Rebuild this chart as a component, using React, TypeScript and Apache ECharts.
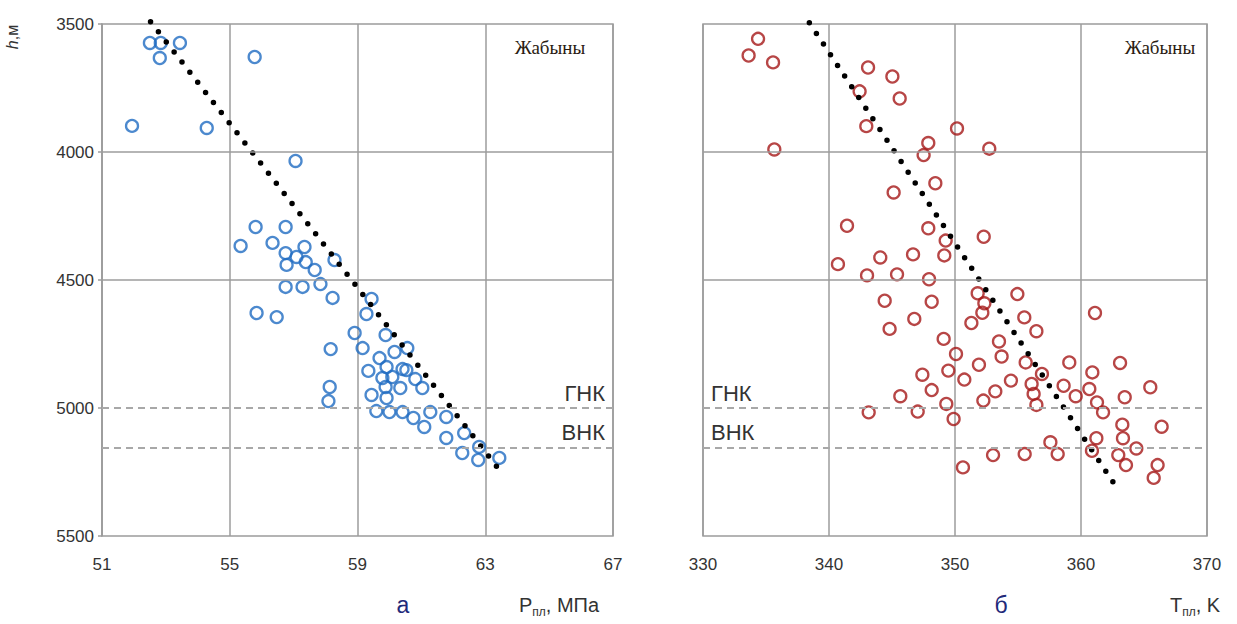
import React, { useEffect, useRef } from "react";
import * as echarts from "echarts";

// Left panel: reservoir pressure (MPa) vs depth (m)
const pressurePoints: [number, number][] = [
  [52.5, 3574], [52.84, 3574], [53.44, 3574], [52.81, 3633], [55.78, 3629],
  [51.94, 3898], [54.28, 3906], [57.06, 4035],
  [55.81, 4293], [56.75, 4293], [55.34, 4367], [56.34, 4355], [57.34, 4371],
  [56.75, 4395], [57.09, 4410], [58.28, 4422], [56.78, 4441], [57.38, 4430],
  [57.66, 4461], [56.75, 4527], [57.28, 4527], [57.84, 4516], [58.22, 4570],
  [59.44, 4574], [55.84, 4629], [56.47, 4645], [59.28, 4633],
  [58.91, 4707], [59.88, 4715], [58.16, 4770], [59.16, 4766], [60.56, 4766],
  [60.16, 4781], [59.69, 4805], [59.34, 4855], [59.91, 4840], [60.41, 4848],
  [60.53, 4852], [59.78, 4883], [60.09, 4879], [60.81, 4887],
  [61.03, 4922], [60.34, 4922], [59.88, 4918], [58.13, 4918], [59.44, 4949],
  [59.91, 4961], [58.09, 4973], [59.59, 5012], [60.0, 5016], [60.41, 5016],
  [60.75, 5039], [61.28, 5016], [61.78, 5035], [61.09, 5074],
  [61.78, 5117], [62.34, 5098], [62.28, 5176], [62.81, 5152], [62.78, 5203],
  [63.44, 5195],
];
const pressureTrend: [number, number][] = [[52.52, 3491], [63.38, 5232]];

// Right panel: reservoir temperature (K) vs depth (m)
const temperaturePoints: [number, number][] = [
  [334.37, 3558], [333.62, 3623], [335.56, 3650], [343.1, 3670], [345.03, 3705],
  [342.43, 3763], [345.61, 3791], [342.96, 3899], [350.16, 3908], [335.66, 3990],
  [347.88, 3965], [347.51, 4012], [352.72, 3987], [348.44, 4122], [345.13, 4158],
  [341.43, 4288], [347.88, 4298], [349.26, 4346], [352.28, 4331], [349.15, 4404],
  [346.67, 4400], [344.07, 4412], [340.71, 4438], [343.02, 4482], [345.4, 4478],
  [347.94, 4497],
  [344.42, 4581], [348.15, 4585], [351.8, 4552], [352.33, 4591], [354.95, 4555],
  [352.17, 4628], [346.77, 4652], [344.81, 4691], [351.3, 4668], [355.5, 4646],
  [356.46, 4700], [361.11, 4629], [349.1, 4730], [353.49, 4740], [350.08, 4789],
  [353.7, 4799], [351.9, 4831], [355.61, 4822], [356.9, 4867], [359.07, 4822],
  [363.1, 4824], [360.9, 4861], [347.41, 4870], [349.47, 4854], [350.74, 4889],
  [354.44, 4893], [356.08, 4906], [358.62, 4913], [360.66, 4926], [365.5, 4919],
  [348.15, 4930], [353.2, 4935], [356.24, 4945], [359.58, 4954], [363.47, 4958],
  [345.66, 4954], [352.25, 4971], [356.46, 4988], [361.27, 4978], [349.31, 4984],
  [361.75, 5017], [343.15, 5017], [347.04, 5014], [349.89, 5043], [363.28, 5065],
  [366.4, 5073], [361.22, 5118], [363.33, 5118], [357.57, 5134], [364.39, 5158],
  [360.87, 5167], [358.15, 5180], [355.53, 5180], [353.02, 5184], [362.96, 5184],
  [363.57, 5223], [366.08, 5223], [350.63, 5232], [365.77, 5273],
];
const temperatureTrend: [number, number][] = [[338.44, 3495], [362.83, 5311]];

const depthGridValues = [4000, 4500];
const contactDepths = [5000, 5155];
const contactNames = ["ГНК", "ВНК"];
const panelTitle = "Жабыны";

const GRID_GREY = "#9c9c9c";
const DASH_GREY = "#a8a8a8";
const SANS = "'Liberation Sans', Arial, sans-serif";

function gridMarkLine(start: boolean) {
  return {
    silent: true,
    symbol: "none",
    animation: false,
    data: [
      ...depthGridValues.map((v) => ({
        yAxis: v,
        lineStyle: { type: "solid", color: GRID_GREY, width: 1.5 },
        label: { show: false },
      })),
      ...contactDepths.map((v, i) => ({
        yAxis: v,
        lineStyle: { type: [7, 5], color: DASH_GREY, width: 2 },
        label: {
          show: true,
          formatter: contactNames[i],
          position: start ? "insideStartTop" : "insideEndTop",
          fontSize: 22,
          fontFamily: SANS,
          color: "#333",
          distance: [8, 4],
        },
      })),
    ],
  };
}

export default function App() {
  const ref = useRef<HTMLDivElement>(null);
  useEffect(() => {
    if (!ref.current) return;
    const chart = echarts.init(ref.current, null, { renderer: "svg" });
    const xLabel = { margin: 20, fontSize: 17, color: "#333", fontFamily: SANS };
    const dotted = { color: "#000", width: 5.5, type: [0, 12.8], cap: "round" };
    const option: any = {
      animation: false,
      grid: [
        { left: 102, top: 24, width: 511, height: 512, show: true, borderColor: GRID_GREY, borderWidth: 1.5 },
        { left: 703, top: 24, width: 504, height: 512, show: true, borderColor: GRID_GREY, borderWidth: 1.5 },
      ],
      xAxis: [
        {
          gridIndex: 0, type: "value", min: 51, max: 67, interval: 4,
          axisLine: { show: false }, axisTick: { show: false },
          splitLine: { show: true, lineStyle: { color: GRID_GREY, width: 1.5 } },
          axisLabel: xLabel,
        },
        {
          gridIndex: 1, type: "value", min: 330, max: 370, interval: 10,
          axisLine: { show: false }, axisTick: { show: false },
          splitLine: { show: true, lineStyle: { color: GRID_GREY, width: 1.5 } },
          axisLabel: xLabel,
        },
      ],
      yAxis: [
        {
          gridIndex: 0, type: "value", inverse: true, min: 3500, max: 5500, interval: 500,
          splitLine: { show: false },
          axisLine: { show: true, lineStyle: { color: GRID_GREY, width: 1.5 } },
          axisTick: { show: true, length: 4, lineStyle: { color: GRID_GREY, width: 1.5 } },
          axisLabel: {
            margin: 8, fontSize: 17, color: "#333", fontFamily: SANS,
            formatter: (v: number) => String(v),
          },
        },
        {
          gridIndex: 1, type: "value", inverse: true, min: 3500, max: 5500, interval: 500,
          splitLine: { show: false },
          axisLine: { show: false }, axisTick: { show: false }, axisLabel: { show: false },
        },
      ],
      series: [
        {
          type: "scatter", xAxisIndex: 0, yAxisIndex: 0, data: pressurePoints,
          symbol: "circle", symbolSize: 12,
          itemStyle: { color: "rgba(255,255,255,0)", borderColor: "#1f6cc2", borderWidth: 2.3 },
          markLine: gridMarkLine(false), z: 3,
        },
        {
          type: "line", xAxisIndex: 0, yAxisIndex: 0, data: pressureTrend,
          symbol: "none", clip: false, z: 4, lineStyle: dotted,
        },
        {
          type: "scatter", xAxisIndex: 1, yAxisIndex: 1, data: temperaturePoints,
          symbol: "circle", symbolSize: 12,
          itemStyle: { color: "rgba(255,255,255,0)", borderColor: "#a51818", borderWidth: 2.3 },
          markLine: gridMarkLine(true), z: 3,
        },
        {
          type: "line", xAxisIndex: 1, yAxisIndex: 1, data: temperatureTrend,
          symbol: "none", clip: false, z: 4, lineStyle: dotted,
        },
      ],
      graphic: [
        {
          type: "text", x: 12, y: 37, rotation: Math.PI / 2,
          style: {
            text: "{i|h},м", align: "center", verticalAlign: "middle", fill: "#333",
            font: `16px ${SANS}`,
            rich: { i: { fontStyle: "italic", fontSize: 16, fontFamily: SANS, fill: "#333" } },
          },
        },
        {
          type: "text", x: 550, y: 47,
          style: { text: panelTitle, align: "center", verticalAlign: "middle", fill: "#2a1c12", font: "19px 'Liberation Serif', serif" },
        },
        {
          type: "text", x: 1160, y: 47,
          style: { text: panelTitle, align: "center", verticalAlign: "middle", fill: "#2a1c12", font: "19px 'Liberation Serif', serif" },
        },
        {
          type: "text", x: 403, y: 605,
          style: { text: "а", align: "center", verticalAlign: "middle", fill: "#1f2a7a", font: `23px ${SANS}` },
        },
        {
          type: "text", x: 1001, y: 605,
          style: { text: "б", align: "center", verticalAlign: "middle", fill: "#1f2a7a", font: `23px ${SANS}` },
        },
        {
          type: "text", x: 519, y: 605,
          style: {
            text: "{m|P}{s|пл}{m|, МПа}", align: "left", verticalAlign: "middle",
            rich: {
              m: { fontSize: 20, fontFamily: SANS, fill: "#333", lineHeight: 26 },
              s: { fontSize: 12, fontFamily: SANS, fill: "#333", lineHeight: 12, verticalAlign: "bottom" },
            },
          },
        },
        {
          type: "text", x: 1170, y: 605,
          style: {
            text: "{m|T}{s|пл}{m|, K}", align: "left", verticalAlign: "middle",
            rich: {
              m: { fontSize: 20, fontFamily: SANS, fill: "#333", lineHeight: 26 },
              s: { fontSize: 12, fontFamily: SANS, fill: "#333", lineHeight: 12, verticalAlign: "bottom" },
            },
          },
        },
      ],
    };
    chart.setOption(option);
    return () => chart.dispose();
  }, []);
  return (
    <div
      ref={ref}
      style={{ position: "fixed", left: 0, top: 0, width: 1237, height: 624, background: "#fff" }}
    />
  );
}
